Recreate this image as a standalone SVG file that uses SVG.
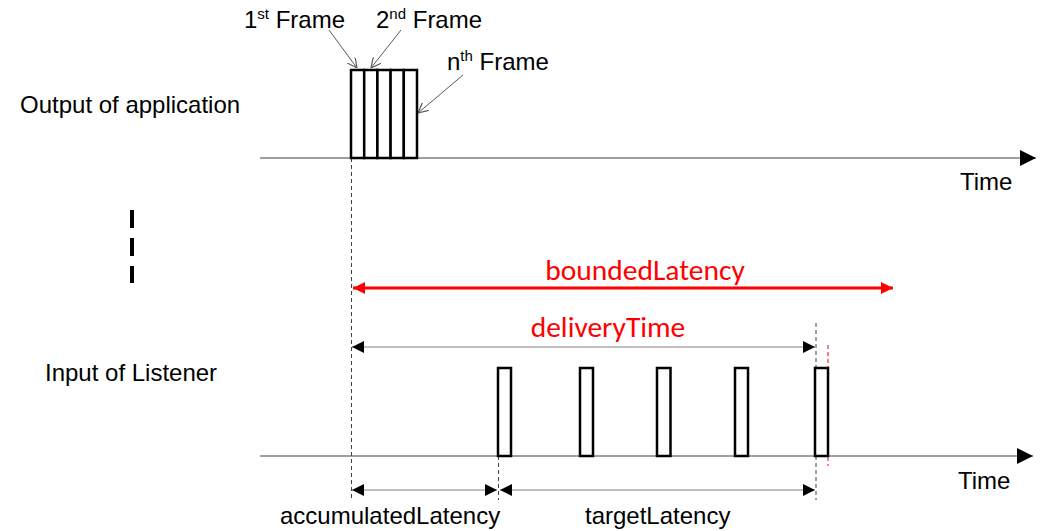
<svg xmlns="http://www.w3.org/2000/svg" width="1048" height="531" viewBox="0 0 1048 531">
<defs>
<style>
.lbl{font-family:"Liberation Sans",Arial,sans-serif;font-size:24px;fill:#000}
.red{font-family:Carlito,"Open Sans","Liberation Sans",sans-serif;font-size:29.5px;fill:#ff0000}
.axis{stroke:#7f7f7f;stroke-width:1.5;fill:none}
.dash{stroke:#404040;stroke-width:1;stroke-dasharray:4,3;fill:none}
.frame{fill:#fff;stroke:#000;stroke-width:2.5}
.ptr{stroke:#595959;stroke-width:1;fill:none}
.dim{stroke:#808080;stroke-width:1.2;fill:none}
</style>
<marker id="tri" viewBox="0 0 10 10" refX="10" refY="5" markerWidth="16" markerHeight="16" markerUnits="userSpaceOnUse" orient="auto"><path d="M0,0 L10,5 L0,10 z" fill="#000"/></marker>
<marker id="dimA" viewBox="0 0 10 10" refX="10" refY="5" markerWidth="14" markerHeight="12" markerUnits="userSpaceOnUse" orient="auto-start-reverse"><path d="M0,0 L10,5 L0,10 z" fill="#000"/></marker>
<marker id="redA" viewBox="0 0 10 10" refX="10" refY="5" markerWidth="14" markerHeight="12" markerUnits="userSpaceOnUse" orient="auto-start-reverse"><path d="M0,0 L10,5 L0,10 z" fill="#ff0000"/></marker>
<marker id="open" viewBox="0 0 10 10" refX="10" refY="5" markerWidth="10" markerHeight="10" markerUnits="userSpaceOnUse" orient="auto"><path d="M0,0 L10,5 L0,10" fill="none" stroke="#595959" stroke-width="1.2"/></marker>
</defs>

<g id="labels">
<text class="lbl" x="20" y="113">Output of application</text>
<text class="lbl" x="45" y="381">Input of Listener</text>
<text class="lbl" x="244" y="28">1<tspan font-size="15" dy="-9">st</tspan><tspan dy="9"> Frame</tspan></text>
<text class="lbl" x="376" y="28">2<tspan font-size="15" dy="-9">nd</tspan><tspan dy="9"> Frame</tspan></text>
<text class="lbl" x="447" y="70">n<tspan font-size="15" dy="-9">th</tspan><tspan dy="9"> Frame</tspan></text>
<text class="lbl" x="960" y="190">Time</text>
<text class="lbl" x="958" y="489">Time</text>
<text class="lbl" x="280" y="524">accumulatedLatency</text>
<text class="lbl" x="585" y="524">targetLatency</text>
<text class="red" x="645" y="280" text-anchor="middle">boundedLatency</text>
<text class="red" x="608" y="337" text-anchor="middle">deliveryTime</text>
</g>

<g id="ellipsis">
<line x1="132" y1="210" x2="132" y2="228" stroke="#000" stroke-width="4"/>
<line x1="132" y1="238" x2="132" y2="256" stroke="#000" stroke-width="4"/>
<line x1="132" y1="266" x2="132" y2="283" stroke="#000" stroke-width="4"/>
</g>

<g id="connectors">
<line class="axis" x1="260" y1="158" x2="1036" y2="158" marker-end="url(#tri)"/>
<line class="axis" x1="260" y1="456" x2="1033" y2="456" marker-end="url(#tri)"/>
<line class="dash" x1="351.5" y1="158" x2="351.5" y2="500"/>
<line class="dash" x1="498.5" y1="456" x2="498.5" y2="500"/>
<line class="dash" x1="816" y1="323" x2="816" y2="500"/>
<line x1="828" y1="345" x2="828" y2="466" stroke="#ff0000" stroke-width="1" stroke-dasharray="4,3"/>
<line class="ptr" x1="329" y1="30" x2="357" y2="68" marker-end="url(#open)"/>
<line class="ptr" x1="401" y1="30" x2="371" y2="68" marker-end="url(#open)"/>
<line class="ptr" x1="463" y1="75" x2="418" y2="113" marker-end="url(#open)"/>
<line x1="353" y1="288" x2="893" y2="288" stroke="#ff0000" stroke-width="3" marker-start="url(#redA)" marker-end="url(#redA)"/>
<line class="dim" x1="352" y1="347" x2="815" y2="347" marker-start="url(#dimA)" marker-end="url(#dimA)"/>
<line class="dim" x1="352" y1="490" x2="497" y2="490" marker-start="url(#dimA)" marker-end="url(#dimA)"/>
<line class="dim" x1="500" y1="490" x2="815" y2="490" marker-start="url(#dimA)" marker-end="url(#dimA)"/>
</g>

<g id="app-frames">
<rect class="frame" x="351" y="70" width="13.2" height="88"/>
<rect class="frame" x="364.2" y="70" width="13.2" height="88"/>
<rect class="frame" x="377.4" y="70" width="13.2" height="88"/>
<rect class="frame" x="390.6" y="70" width="13.2" height="88"/>
<rect class="frame" x="403.8" y="70" width="13.2" height="88"/>
</g>

<g id="listener-frames">
<rect class="frame" x="498" y="368" width="13" height="88"/>
<rect class="frame" x="580" y="368" width="13" height="88"/>
<rect class="frame" x="657" y="368" width="13.5" height="88"/>
<rect class="frame" x="735" y="368" width="13" height="88"/>
<rect class="frame" x="815" y="368" width="13" height="88"/>
</g>
</svg>
